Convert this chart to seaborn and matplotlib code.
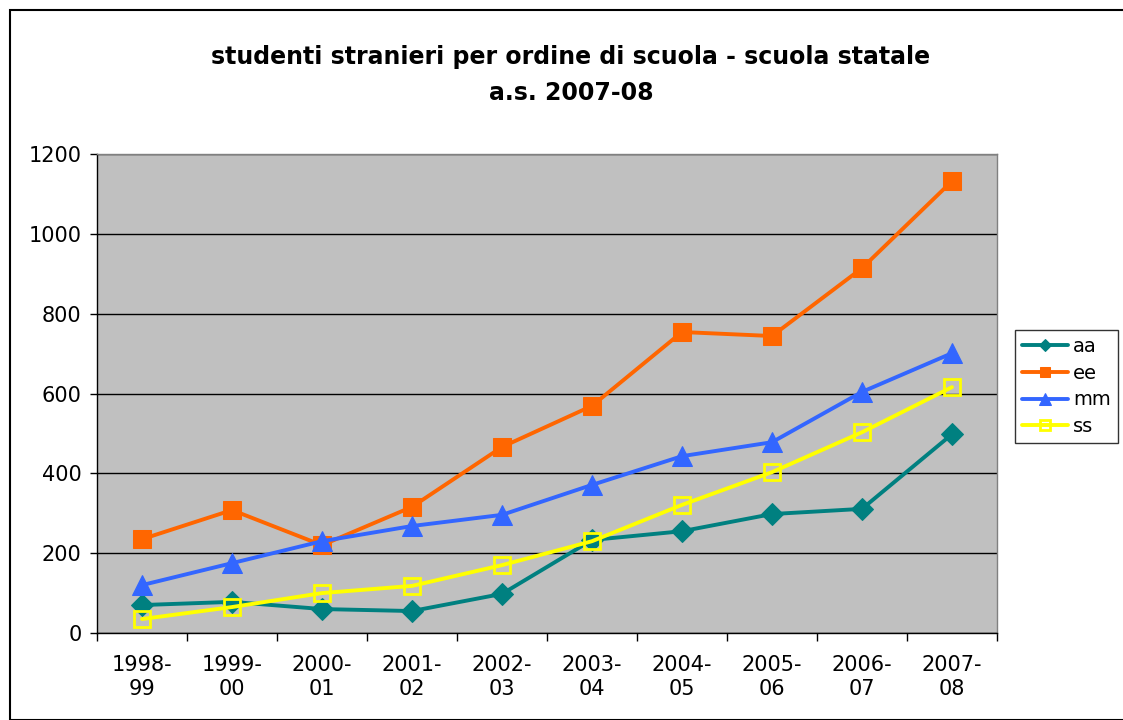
import matplotlib
matplotlib.use("Agg")
import matplotlib.pyplot as plt
import matplotlib.patches as mpatches
import seaborn as sns
import pandas as pd

categories = ["1998-\n99", "1999-\n00", "2000-\n01", "2001-\n02", "2002-\n03",
              "2003-\n04", "2004-\n05", "2005-\n06", "2006-\n07", "2007-\n08"]
aa = [70, 78, 60, 55, 98, 233, 255, 298, 311, 498]
ee = [235, 308, 220, 316, 466, 569, 754, 744, 914, 1132]
mm = [120, 175, 230, 268, 296, 371, 443, 478, 604, 701]
ss = [35, 65, 100, 118, 170, 230, 321, 403, 503, 616]
series_names = ["aa", "ee", "mm", "ss"]
y_ticks = [0, 200, 400, 600, 800, 1000, 1200]
title = "studenti stranieri per ordine di scuola - scuola statale\na.s. 2007-08"

sns.set_theme(style="white")
plt.rcParams["font.family"] = ["DejaVu Sans"]
plt.rcParams["text.color"] = "black"
plt.rcParams["xtick.color"] = "black"
plt.rcParams["ytick.color"] = "black"

fig = plt.figure(figsize=(11.23, 7.2), dpi=100)
fig.patch.set_facecolor("white")
W, H = 1123, 720
ax = fig.add_axes([97 / W, 1 - 633 / H, (997 - 97) / W, (633 - 154) / H])
ax.set_facecolor("#C0C0C0")

styles = {
    "aa": dict(color="#008080", marker="D", markersize=11, markerfacecolor="#008080", markeredgecolor="#008080"),
    "ee": dict(color="#FF6600", marker="s", markersize=13, markerfacecolor="#FF6600", markeredgecolor="#FF6600"),
    "mm": dict(color="#3366FF", marker="^", markersize=15, markerfacecolor="#3366FF", markeredgecolor="#3366FF"),
    "ss": dict(color="#FFFF00", marker="s", markersize=12, markerfacecolor="none", markeredgecolor="#FFFF00", markeredgewidth=2),
}
data = {"aa": aa, "ee": ee, "mm": mm, "ss": ss}
x = list(range(len(categories)))
for name in series_names:
    df = pd.DataFrame({"x": x, "y": data[name]})
    sns.lineplot(data=df, x="x", y="y", ax=ax, linewidth=2.8, label=name, **styles[name])

ax.set_xlim(-0.5, len(categories) - 0.5)
ax.set_ylim(0, 1200)
ax.set_yticks(y_ticks)
ax.set_yticklabels([str(v) for v in y_ticks], fontsize=15)
ax.yaxis.grid(True, color="black", linewidth=1)
ax.set_axisbelow(True)
ax.set_xticks([i - 0.5 for i in range(len(categories) + 1)])
ax.set_xticklabels([])
ax.set_xticks(x, minor=True)
ax.set_xticklabels(categories, minor=True, fontsize=15, color="black", linespacing=1.25)
ax.tick_params(axis="x", which="major", length=6, width=1, color="black", direction="out", bottom=True)
ax.tick_params(axis="x", which="minor", length=0, pad=16)
ax.tick_params(axis="y", length=5, width=1, color="black", direction="out", left=True, labelcolor="black", pad=6)
ax.set_xlabel("")
ax.set_ylabel("")
for s in ["top", "right"]:
    ax.spines[s].set_color("#808080")
    ax.spines[s].set_linewidth(1)
for s in ["left", "bottom"]:
    ax.spines[s].set_color("black")
    ax.spines[s].set_linewidth(1)

ax.get_legend().remove()
handles, labels = ax.get_legend_handles_labels()
leg = fig.legend(handles, labels, loc="upper left", bbox_to_anchor=(1015 / W, 1 - 330 / H),
                 frameon=True, fancybox=False, shadow=False, fontsize=14,
                 handlelength=2.4, handletextpad=0.25, borderpad=0.35, labelspacing=0.4,
                 borderaxespad=0, markerscale=0.6, labelcolor="black")
leg.get_frame().set_edgecolor("black")
leg.get_frame().set_linewidth(1)

fig.text(571 / W, 1 - 75 / H, title, ha="center", va="center", fontsize=17,
         fontweight="bold", color="black", linespacing=1.6)

fig.patches.append(mpatches.Rectangle((10 / W, 0), 1.2, 1 - 10 / H, transform=fig.transFigure,
                                      fill=False, edgecolor="black", linewidth=1.5, zorder=10))

fig.savefig("out.png", dpi=100, facecolor="white")
